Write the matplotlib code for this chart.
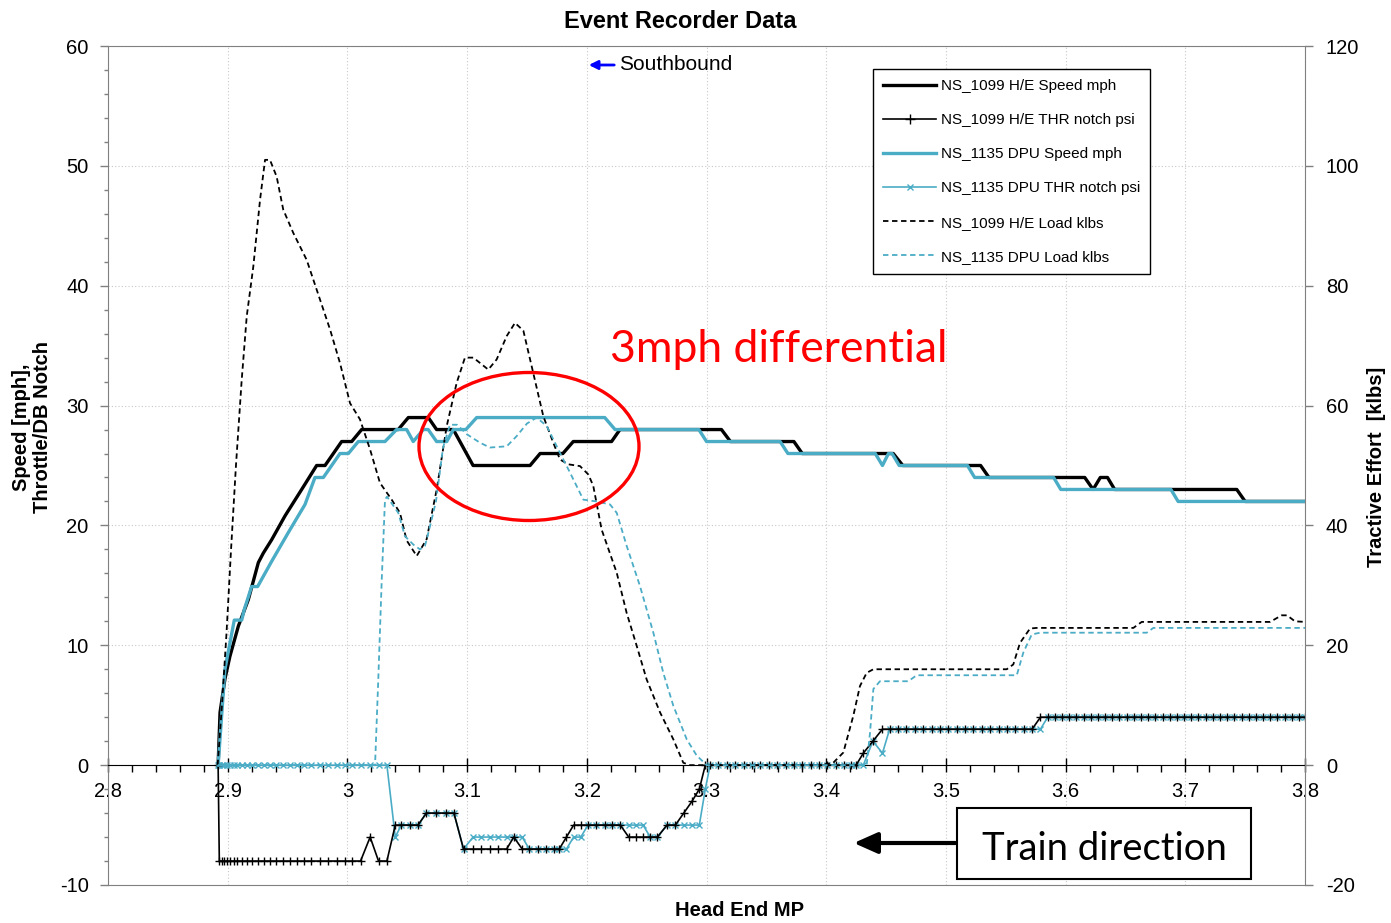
import matplotlib
matplotlib.use('Agg')
import matplotlib.pyplot as plt
from matplotlib.patches import Ellipse, Rectangle, FancyArrowPatch
from matplotlib.lines import Line2D
from matplotlib.ticker import MultipleLocator, FuncFormatter

plt.rcParams['font.family'] = ['Liberation Sans', 'DejaVu Sans']
plt.rcParams['axes.unicode_minus'] = False

# ---------------- data ----------------
# NS_1099 H/E speed (mph)
he_speed_mp = [2.892, 2.8936, 2.8977, 2.9019, 2.9089, 2.9172, 2.9256, 2.9298, 2.9367, 2.9479,
               2.9618, 2.9743, 2.9813, 2.9952, 3.0036, 3.0119, 3.0425, 3.0509, 3.0676, 3.0745,
               3.0885, 3.1050, 3.1526, 3.1610, 3.1800, 3.1887, 3.2207, 3.2277, 3.3125, 3.3200,
               3.3730, 3.3800, 3.4560, 3.4640, 3.5290, 3.5360, 3.6160, 3.6230, 3.6290, 3.6350,
               3.6410, 3.7430, 3.7500, 3.8]
he_speed = [0, 4.4, 7.2, 9.1, 11.6, 13.8, 16.9, 17.7, 18.8, 20.8,
            23.0, 25, 25, 27, 27, 28, 28, 29, 29, 28,
            28, 25, 25, 26, 26, 27, 27, 28, 28, 27,
            27, 26, 26, 25, 25, 24, 24, 23, 24, 24,
            23, 23, 22, 22]

# NS_1135 DPU speed (mph)
dpu_speed_mp = [2.892, 2.8977, 2.9055, 2.9117, 2.9139, 2.9200, 2.9250, 2.9367, 2.9506, 2.9646,
                2.9729, 2.9799, 2.9938, 3.0008, 3.0091, 3.0314, 3.0411, 3.0495, 3.0550, 3.0634,
                3.0675, 3.0745, 3.0830, 3.0885, 3.0990, 3.1080, 3.2150, 3.2236, 3.2936, 3.3000,
                3.3615, 3.3680, 3.4410, 3.4470, 3.4520, 3.4550, 3.4610, 3.5180, 3.5240, 3.5900,
                3.5960, 3.6880, 3.6940, 3.8]
dpu_speed = [0, 8.0, 12.1, 12.1, 13.0, 14.9, 14.9, 17.0, 19.4, 21.75,
             24, 24, 26, 26, 27, 27, 28, 28, 27, 28,
             28, 27, 27, 28, 28, 29, 29, 28, 28, 27,
             27, 26, 26, 25, 26, 26, 25, 25, 24, 24,
             23, 23, 22, 22]

# Throttle / DB notch samples (shared MP of each recorder sample)
thr_mp = [2.892, 2.893, 2.895, 2.897, 2.899, 2.902, 2.905, 2.908, 2.912, 2.916,
          2.920, 2.925, 2.930, 2.935, 2.940, 2.946, 2.952, 2.958, 2.964, 2.970,
          2.977, 2.984, 2.991, 2.998, 3.004, 3.011, 3.019, 3.026, 3.033, 3.040,
          3.045, 3.052, 3.059, 3.066, 3.074, 3.082, 3.089, 3.097, 3.105, 3.112,
          3.119, 3.126, 3.133, 3.139, 3.146, 3.152, 3.159, 3.166, 3.173, 3.177,
          3.183, 3.189, 3.195, 3.201, 3.208, 3.215, 3.221, 3.228, 3.235, 3.241,
          3.247, 3.253, 3.259, 3.267, 3.274, 3.281, 3.288, 3.294, 3.299, 3.303,
          3.310, 3.317, 3.324, 3.331, 3.338, 3.345, 3.352, 3.359, 3.366, 3.373,
          3.380, 3.387, 3.394, 3.401, 3.408, 3.415, 3.421, 3.425, 3.431, 3.439,
          3.447, 3.453, 3.460, 3.467, 3.474, 3.481, 3.488, 3.495, 3.502, 3.509,
          3.516, 3.523, 3.530, 3.537, 3.544, 3.551, 3.558, 3.565, 3.572, 3.579,
          3.585, 3.591, 3.597, 3.603, 3.609, 3.615, 3.621, 3.627, 3.633, 3.639,
          3.645, 3.651, 3.657, 3.663, 3.669, 3.675, 3.681, 3.687, 3.693, 3.699,
          3.705, 3.711, 3.717, 3.723, 3.729, 3.735, 3.741, 3.747, 3.753, 3.759,
          3.765, 3.771, 3.777, 3.783, 3.789, 3.795, 3.800]
he_thr = [0, -8, -8, -8, -8, -8, -8, -8, -8, -8,
          -8, -8, -8, -8, -8, -8, -8, -8, -8, -8,
          -8, -8, -8, -8, -8, -8, -6, -8, -8, -5,
          -5, -5, -5, -4, -4, -4, -4, -7, -7, -7,
          -7, -7, -7, -6, -7, -7, -7, -7, -7, -7,
          -6, -5, -5, -5, -5, -5, -5, -5, -6, -6,
          -6, -6, -6, -5, -5, -4, -3, -2, 0, 0,
          0, 0, 0, 0, 0, 0, 0, 0, 0, 0,
          0, 0, 0, 0, 0, 0, 0, 0, 1, 2,
          3, 3, 3, 3, 3, 3, 3, 3, 3, 3,
          3, 3, 3, 3, 3, 3, 3, 3, 3, 4,
          4, 4, 4, 4, 4, 4, 4, 4, 4, 4,
          4, 4, 4, 4, 4, 4, 4, 4, 4, 4,
          4, 4, 4, 4, 4, 4, 4, 4, 4, 4,
          4, 4, 4, 4, 4, 4, 4]
dpu_thr = [0, 0, 0, 0, 0, 0, 0, 0, 0, 0,
           0, 0, 0, 0, 0, 0, 0, 0, 0, 0,
           0, 0, 0, 0, 0, 0, 0, 0, 0, -6,
           -5, -5, -5, -4, -4, -4, -4, -7, -6, -6,
           -6, -6, -6, -6, -6, -7, -7, -7, -7, -7,
           -7, -6, -6, -5, -5, -5, -5, -5, -5, -5,
           -5, -6, -6, -5, -5, -5, -5, -5, -2, 0,
           0, 0, 0, 0, 0, 0, 0, 0, 0, 0,
           0, 0, 0, 0, 0, 0, 0, 0, 0, 2,
           1, 3, 3, 3, 3, 3, 3, 3, 3, 3,
           3, 3, 3, 3, 3, 3, 3, 3, 3, 3,
           4, 4, 4, 4, 4, 4, 4, 4, 4, 4,
           4, 4, 4, 4, 4, 4, 4, 4, 4, 4,
           4, 4, 4, 4, 4, 4, 4, 4, 4, 4,
           4, 4, 4, 4, 4, 4, 4]

# Loads (klbs, right axis)
he_load_mp = [2.8916, 2.8952, 2.8990, 2.9028, 2.9069, 2.9117, 2.9159, 2.9214, 2.9270, 2.9312,
              2.9353, 2.9409, 2.9464, 2.9548, 2.9660, 2.9744, 2.9855, 2.9938, 3.0022, 3.0105,
              3.0189, 3.0272, 3.0370, 3.0439, 3.0495, 3.0579, 3.0662, 3.0746, 3.0830, 3.0913,
              3.0982, 3.1052, 3.1177, 3.1247, 3.1331, 3.1400, 3.1470, 3.1553, 3.1637, 3.1720,
              3.1776, 3.1845, 3.1943, 3.2013, 3.2054, 3.2124, 3.2250, 3.2333, 3.2417, 3.2500,
              3.2612, 3.2723, 3.2806, 3.2862, 3.3948, 3.4059, 3.4143, 3.4226, 3.4282, 3.4338,
              3.4394, 3.5508, 3.5563, 3.5619, 3.5703, 3.5759, 3.6566, 3.6636, 3.7708, 3.7805,
              3.7850, 3.7916, 3.8]
he_load = [0, 10, 22, 36, 50, 64.3, 74.9, 83.2, 94.3, 101,
           101, 98.2, 92.7, 88.8, 84.3, 79.3, 72.7, 67.1, 60.4, 57.7,
           52.7, 47.1, 44.3, 42.1, 37.5, 34.9, 37.7, 46, 56.6, 63.8,
           68, 68, 66, 67.7, 71.6, 73.8, 72.5, 65.4, 58.2, 53.8,
           51, 50.2, 49.9, 48.5, 46.6, 39.3, 32.1, 25.4, 19.9, 14.3,
           8.8, 4.3, 0.4, 0, 0, 0.4, 2.1, 8.2, 13.2, 15.4,
           16, 16, 16.8, 20.4, 22.8, 22.9, 22.9, 23.9, 23.9, 25,
           25, 24, 23.9]

dpu_load_mp = [2.8916, 3.0231, 3.0258, 3.0287, 3.0314, 3.0331, 3.0425, 3.0481, 3.0551, 3.0607,
               3.0648, 3.0673, 3.0740, 3.0799, 3.0857, 3.0916, 3.0999, 3.1108, 3.1191, 3.1331,
               3.1414, 3.1500, 3.1581, 3.1665, 3.1776, 3.1860, 3.1971, 3.2083, 3.2194, 3.2250,
               3.2333, 3.2444, 3.2556, 3.2639, 3.2723, 3.2835, 3.2918, 3.3002, 3.4338, 3.4366,
               3.4394, 3.4449, 3.4686, 3.4756, 3.5592, 3.5647, 3.5717, 3.5786, 3.6678, 3.6733,
               3.8]
dpu_load = [0, 0, 14.3, 31, 44.3, 44.8, 42.1, 38.2, 36.8, 36,
            36.6, 38.5, 44, 53, 56.8, 56.8, 55.2, 53.8, 53, 53.2,
            54.9, 57, 58, 56.6, 52.1, 48.8, 44.3, 44, 43.5, 42.1,
            36.6, 29.9, 22.1, 15.4, 9.9, 4.3, 1.6, 0, 0, 5.4,
            12.7, 14, 14, 15, 15, 18.8, 21.8, 22.1, 22.1, 22.9,
            22.9]

labels = ['NS_1099 H/E Speed mph', 'NS_1099 H/E THR notch psi', 'NS_1135 DPU Speed mph',
          'NS_1135 DPU THR notch psi', 'NS_1099 H/E Load klbs', 'NS_1135 DPU Load klbs']

# ---------------- figure ----------------
W, H = 1391, 923
CYAN = '#4BACC6'
GRAY = '#808080'
DASH = (0, (3, 2))

fig = plt.figure(figsize=(W / 100, H / 100), dpi=100)
ax = fig.add_axes([108 / W, 1 - 885 / H, (1305 - 108) / W, (885 - 46) / H])
ax2 = ax.twinx()

ax.plot(thr_mp, dpu_thr, color=CYAN, lw=1.2, marker='x', ms=4.5, mew=1.0, zorder=3)
ax.plot(thr_mp, he_thr, color='black', lw=1.2, marker='+', ms=6, mew=1.0, zorder=3.5)
ax.plot(dpu_speed_mp, dpu_speed, color=CYAN, lw=2.4, zorder=4)
ax.plot(he_speed_mp, he_speed, color='black', lw=2.4, zorder=3.8)
ax2.plot(he_load_mp, he_load, color='black', lw=1.3, ls=DASH)
ax2.plot(dpu_load_mp, dpu_load, color=CYAN, lw=1.3, ls=DASH)

ax.set_xlim(2.8, 3.8)
ax.set_ylim(-10, 60)
ax2.set_ylim(-20, 120)

ax.xaxis.set_major_locator(MultipleLocator(0.1))
ax.xaxis.set_minor_locator(MultipleLocator(0.02))
ax.xaxis.set_major_formatter(FuncFormatter(lambda v, p: f'{v:g}'))
ax.yaxis.set_major_locator(MultipleLocator(10))
ax.yaxis.set_minor_locator(MultipleLocator(2))
ax2.yaxis.set_major_locator(MultipleLocator(20))

ax.spines['bottom'].set_position(('data', 0))
ax.spines['bottom'].set_color('black')
for s in ['left', 'top']:
    ax.spines[s].set_color(GRAY)
ax.spines['right'].set_visible(False)
ax2.spines['left'].set_visible(False)
ax2.spines['top'].set_visible(False)
ax2.spines['bottom'].set_color(GRAY)
ax2.spines['right'].set_color(GRAY)

ax.tick_params(axis='x', which='major', direction='inout', length=10, width=1,
               labelsize=14.5, pad=7, color='black')
ax.tick_params(axis='x', which='minor', direction='out', length=5, width=1, color='black')
ax.tick_params(axis='y', which='major', direction='out', length=6, width=1,
               labelsize=14.5, pad=8, color=GRAY)
ax.tick_params(axis='y', which='minor', direction='out', length=3, width=1, color=GRAY)
ax2.tick_params(axis='y', which='major', direction='out', length=6, width=1,
                labelsize=14.5, pad=9, color=GRAY)

ax.grid(True, which='major', color='#c8c8c8', ls=(0, (1, 2)), lw=0.8)
ax.set_axisbelow(True)

# labels and title
fig.text(680 / W, 1 - 21 / H, 'Event Recorder Data', ha='center', va='center',
         fontsize=17, fontweight='bold')
fig.text(32 / W, 1 - 427 / H, 'Speed [mph],\nThrottle/DB Notch', rotation=90,
         ha='center', va='center', multialignment='center', fontsize=14.5,
         fontweight='bold', linespacing=1.1)
fig.text(1377 / W, 1 - 467 / H, 'Tractive Effort  [klbs]', rotation=90,
         ha='center', va='center', fontsize=14.5, fontweight='bold')
fig.text(740 / W, 1 - 911 / H, 'Head End MP', ha='center', va='center',
         fontsize=14.5, fontweight='bold')

# legend
handles = [Line2D([], [], color='black', lw=2.4),
           Line2D([], [], color='black', lw=1.2, marker='+', ms=7, mew=1.0),
           Line2D([], [], color=CYAN, lw=2.4),
           Line2D([], [], color=CYAN, lw=1.2, marker='x', ms=5, mew=1.0),
           Line2D([], [], color='black', lw=1.3, ls=DASH),
           Line2D([], [], color=CYAN, lw=1.3, ls=DASH)]
leg = ax2.legend(handles, labels, loc='upper left', bbox_to_anchor=(873 / W, 1 - 69 / H),
                 bbox_transform=fig.transFigure, fontsize=11, frameon=True, fancybox=False,
                 edgecolor='black', framealpha=1, borderpad=0.65, labelspacing=1.32,
                 handlelength=3.5, handletextpad=0.3, borderaxespad=0)
leg.get_frame().set_linewidth(1.0)

# annotations
fig.text(619 / W, 1 - 65 / H, 'Southbound', ha='left', va='center', fontsize=15)
fig.add_artist(FancyArrowPatch((617 / W, 1 - 65 / H), (586 / W, 1 - 65 / H),
                               transform=fig.transFigure, arrowstyle='-|>',
                               mutation_scale=13, color='#0000ff', lw=2))

fig.text(610 / W, 1 - 362 / H, '3mph differential', ha='left', va='baseline',
         fontsize=32, color='red', family=['Lato', 'DejaVu Sans'])
fig.add_artist(Ellipse((529 / W, 1 - 446.5 / H), 220 / W, 148 / H, transform=fig.transFigure,
                       fill=False, edgecolor='red', lw=2.4))

fig.add_artist(Rectangle((957 / W, 1 - 879 / H), (1251 - 957) / W, (879 - 808) / H,
                         transform=fig.transFigure, facecolor='white', edgecolor='black',
                         lw=1.5))
fig.text(1104 / W, 1 - 860 / H, 'Train direction', ha='center', va='baseline',
         fontsize=27.5, family=['Lato', 'DejaVu Sans'])
fig.add_artist(FancyArrowPatch((958 / W, 1 - 843 / H), (851 / W, 1 - 843 / H),
                               transform=fig.transFigure,
                               arrowstyle='-|>,head_length=0.9,head_width=0.4',
                               mutation_scale=16, color='black', lw=3))

fig.savefig('out.png', dpi=100)
